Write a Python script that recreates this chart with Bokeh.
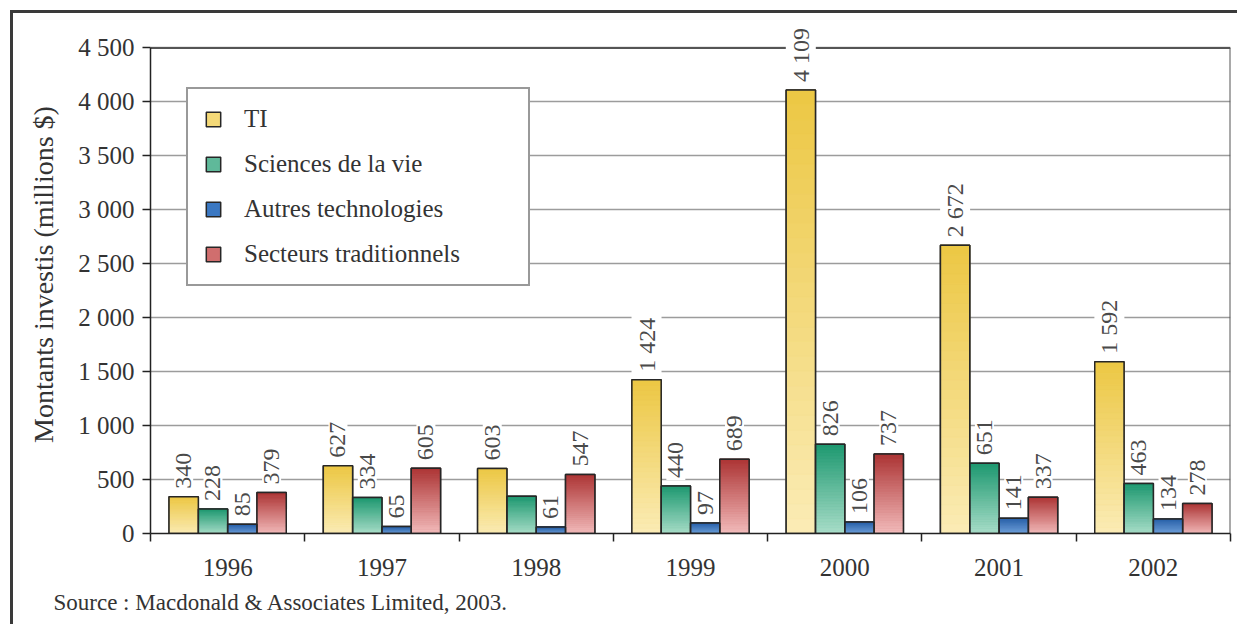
import numpy as np
from bokeh.plotting import figure
from bokeh.models import (ColumnDataSource, Range1d, FixedTicker, Legend, LegendItem, Title)
from bokeh.core.properties import value
from bokeh.embed import file_html
from bokeh.resources import INLINE

# ---------------- data ----------------
years = ["1996", "1997", "1998", "1999", "2000", "2001", "2002"]
series = ["TI", "Sciences de la vie", "Autres technologies", "Secteurs traditionnels"]
ti = [340, 627, 603, 1424, 4109, 2672, 1592]
sciences = [228, 334, 345, 440, 826, 651, 463]
autres = [85, 65, 61, 97, 106, 141, 134]
secteurs = [379, 605, 547, 689, 737, 337, 278]
hidden_labels = [("Sciences de la vie", "1998")]
y_ticks = [0, 500, 1000, 1500, 2000, 2500, 3000, 3500, 4000, 4500]
y_label = "Montants investis (millions $)"
source_note = "Source : Macdonald & Associates Limited, 2003."

# ---------------- styles ----------------
top_colors = ["#ecc743", "#1d9870", "#2a62aa", "#ac3434"]
bot_colors = ["#fbecb6", "#aadec9", "#72a2da", "#f3bcbc"]
mid_colors = ["#f4d978", "#5fb99a", "#3b78c2", "#d06e6e"]
offsets = [-0.285, -0.095, 0.095, 0.285]
bar_w = 0.19
FONT = "Liberation Serif"
Y_MAX = 4800  # room above the 4 500 frame line for the rotated labels

def hex2rgb(h):
    h = h.lstrip("#")
    return np.array([int(h[i:i + 2], 16) for i in (0, 2, 4)], dtype=float)

def rgb2hex(c):
    return "#%02x%02x%02x" % tuple(int(round(v)) for v in c)

def fmt(v):
    return f"{v:,}".replace(",", " ")

all_vals = [ti, sciences, autres, secteurs]
n = len(years)

p = figure(width=1227, height=614, output_backend="svg", toolbar_location=None,
           x_range=Range1d(0, n), y_range=Range1d(0, Y_MAX),
           min_border_left=137, min_border_right=10, min_border_top=2, min_border_bottom=94)
p.styles = {"margin-left": "10px", "margin-top": "10px",
            "border-left": "3px solid #3a3a3a", "border-top": "3px solid #3a3a3a"}
p.background_fill_color = "white"
p.border_fill_color = "white"
p.outline_line_color = None

# grid
p.xgrid.grid_line_color = None
p.ygrid.grid_line_color = "#9c9c9c"
p.ygrid.grid_line_width = 1.5
p.ygrid.ticker = FixedTicker(ticks=y_ticks)

# plot-area frame: top line at the last tick and right edge
top = y_ticks[-1]
p.segment(x0=[0, n], y0=[top, 0], x1=[n, n], y1=[top, top],
          line_color="#555555", line_width=2)

# solid bars (also used as legend glyphs)
legend_items = []
for si, vals in enumerate(all_vals):
    xs = [yi + 0.5 + offsets[si] for yi in range(n)]
    r = p.vbar(x=xs, top=vals, bottom=0, width=bar_w, fill_color=mid_colors[si],
               line_color="#262626", line_width=1.5)
    legend_items.append(LegendItem(label=series[si], renderers=[r]))

# gradient fill on top
N = 30
rows = {"x": [], "bottom": [], "top": [], "color": []}
for si, vals in enumerate(all_vals):
    tc, bc = hex2rgb(top_colors[si]), hex2rgb(bot_colors[si])
    for yi, v in enumerate(vals):
        for k in range(N):
            f = (k + 0.5) / N
            rows["x"].append(yi + 0.5 + offsets[si])
            rows["bottom"].append(v * k / N)
            rows["top"].append(v * (k + 1) / N)
            rows["color"].append(rgb2hex(bc + (tc - bc) * f))
p.vbar(x="x", bottom="bottom", top="top", width=bar_w, source=ColumnDataSource(rows),
       fill_color="color", line_color="color", line_width=0.6)

# outlines and value labels
for si, vals in enumerate(all_vals):
    xs = [yi + 0.5 + offsets[si] for yi in range(n)]
    p.vbar(x=xs, top=vals, bottom=0, width=bar_w, fill_color=None,
           line_color="#262626", line_width=1.5)
    labels = ["" if (series[si], years[yi]) in hidden_labels else fmt(v)
              for yi, v in enumerate(vals)]
    src = ColumnDataSource(dict(x=xs, y=vals, t=labels))
    p.text(x="x", y="y", text="t", source=src, angle=np.pi / 2,
           text_align="left", text_baseline="middle", y_offset=-6,
           text_font=value(FONT), text_font_size="24px", text_color="#4a4a4a",
           background_fill_color="white", padding=2)

# y axis
ya = p.yaxis[0]
ya.bounds = (0, top)
ya.ticker = FixedTicker(ticks=y_ticks)
ya.major_label_overrides = {v: fmt(v) for v in y_ticks}
ya.axis_label = y_label
ya.axis_label_text_font = FONT
ya.axis_label_text_font_style = "normal"
ya.axis_label_text_font_size = "28px"
ya.axis_label_text_color = "#333333"
ya.axis_label_standoff = 16
ya.major_label_text_font = FONT
ya.major_label_text_font_size = "25px"
ya.major_label_text_color = "#333333"
ya.major_label_standoff = 8
ya.major_tick_out = 8
ya.major_tick_in = 0
ya.minor_tick_line_color = None
ya.axis_line_color = "#222222"
ya.axis_line_width = 1.5
ya.major_tick_line_color = "#222222"
ya.major_tick_line_width = 1.5

# x axis
xa = p.xaxis[0]
xa.ticker = FixedTicker(ticks=[i + 0.5 for i in range(n)], minor_ticks=list(range(n + 1)))
xa.major_label_overrides = {i + 0.5: y for i, y in enumerate(years)}
xa.major_tick_line_color = None
xa.major_tick_out = 0
xa.major_tick_in = 0
xa.minor_tick_out = 8
xa.minor_tick_in = 0
xa.minor_tick_line_color = "#222222"
xa.minor_tick_line_width = 1.5
xa.axis_line_color = "#222222"
xa.axis_line_width = 1.5
xa.major_label_text_font = FONT
xa.major_label_text_font_size = "25px"
xa.major_label_text_color = "#333333"
xa.major_label_standoff = 17

# legend
legend = Legend(items=legend_items, location=(36, 247),
                label_text_font=FONT, label_text_font_size="25px",
                label_text_color="#333333", glyph_width=18, glyph_height=18,
                label_standoff=22, label_width=268, spacing=17, padding=16,
                border_line_color="#333333", border_line_width=2,
                background_fill_color="white", background_fill_alpha=1, margin=0)
p.add_layout(legend, "center")

# source note
note = Title(text=source_note, align="left", offset=-97,
             text_font=FONT, text_font_size="23px", text_font_style="normal",
             text_color="#333333", standoff=19)
p.add_layout(note, "below")

open("out.html", "w").write(file_html(p, INLINE))
